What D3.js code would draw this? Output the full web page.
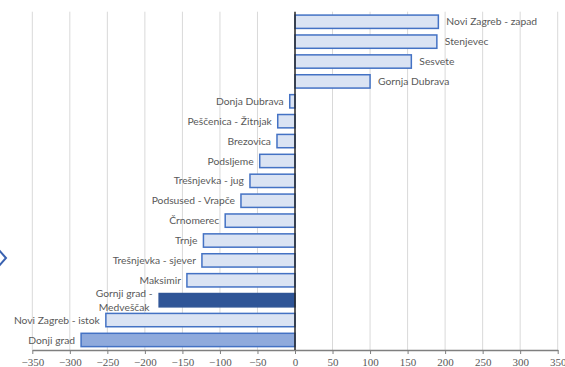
<!DOCTYPE html>
<html>
<head>
<meta charset="utf-8">
<script src="https://cdn.jsdelivr.net/npm/d3@7"></script>
<style>
  body { margin: 0; background: #fff; }
  svg { display: block; }
</style>
</head>
<body>
<div id="chart"></div>
<script>
// districts, top to bottom
const districts = [
    'Novi Zagreb - zapad', 'Stenjevec', 'Sesvete', 'Gornja Dubrava',
    'Donja Dubrava', 'Peščenica - Žitnjak', 'Brezovica', 'Podsljeme',
    'Trešnjevka - jug', 'Podsused - Vrapče', 'Črnomerec', 'Trnje',
    'Trešnjevka - sjever', 'Maksimir', 'Gornji grad - Medveščak',
    'Novi Zagreb - istok', 'Donji grad'
];
const values = [191, 189, 155, 100, -7, -23, -24, -47, -60, -72, -93, -122, -124, -144, -181, -252, -285];
const xTicks = [-350, -300, -250, -200, -150, -100, -50, 0, 50, 100, 150, 200, 250, 300, 350];

const width = 565, height = 367;
const margin = { top: 11.7, right: 7.3, bottom: 17, left: 32.3 };

const fillFor = name => name === 'Gornji grad - Medveščak' ? '#2f5597'
    : name === 'Donji grad' ? '#8faadc' : '#dae3f3';
const strokeFor = name => name === 'Gornji grad - Medveščak' ? '#2f5597' : '#4472c4';

const svg = d3.select('#chart').append('svg')
    .attr('width', width)
    .attr('height', height);

const x = d3.scaleLinear()
    .domain([-350, 350])
    .range([margin.left, width - margin.right]);
const y = d3.scaleBand()
    .domain(districts)
    .range([margin.top, height - margin.bottom])
    .paddingInner(0.33)
    .paddingOuter(0.17);

// gridlines
svg.append('g')
    .selectAll('line')
    .data(xTicks.filter(t => t !== 0))
    .join('line')
        .attr('x1', d => x(d)).attr('x2', d => x(d))
        .attr('y1', margin.top).attr('y2', height - margin.bottom)
        .attr('stroke', '#d9d9d9')
        .attr('stroke-width', 1);

// bars
const data = districts.map((d, i) => ({ name: d, value: values[i] }));
svg.append('g')
    .selectAll('rect')
    .data(data)
    .join('rect')
        .attr('x', d => x(Math.min(0, d.value)))
        .attr('y', d => y(d.name))
        .attr('width', d => Math.abs(x(d.value) - x(0)))
        .attr('height', y.bandwidth())
        .attr('fill', d => fillFor(d.name))
        .attr('stroke', d => strokeFor(d.name))
        .attr('stroke-width', 1.5);

// x axis
const xAxis = svg.append('g')
    .attr('transform', 'translate(0,' + (height - margin.bottom) + ')')
    .call(d3.axisBottom(x).tickValues(xTicks).tickSize(4).tickSizeOuter(0))
    .attr('font-family', "'Liberation Serif', 'DejaVu Serif', serif")
    .attr('font-size', 11);
xAxis.select('.domain').attr('stroke', '#7f7f7f').attr('stroke-width', 1.5);
xAxis.selectAll('.tick line').attr('stroke', '#7f7f7f');
xAxis.selectAll('.tick text')
    .attr('fill', '#595959')
    .attr('y', 8)
    .attr('dy', '0.71em');

// zero line
svg.append('line')
    .attr('x1', x(0)).attr('x2', x(0))
    .attr('y1', margin.top).attr('y2', height - margin.bottom)
    .attr('stroke', '#262626')
    .attr('stroke-width', 1.5);

// labels
const labels = svg.append('g')
    .attr('font-family', 'Lato')
    .attr('font-size', 10.3)
    .attr('fill', '#595959');
data.forEach(d => {
    const cy = y(d.name) + y.bandwidth() / 2;
    const pos = d.value >= 0;
    const tx = pos ? x(d.value) + 8 : x(d.value) - 6;
    if (d.name === 'Gornji grad - Medveščak') {
        const t = labels.append('text')
            .attr('x', tx - 29)
            .attr('y', cy)
            .attr('text-anchor', 'middle');
        t.append('tspan').attr('x', tx - 29).attr('dy', '-0.3em').text('Gornji grad -');
        t.append('tspan').attr('x', tx - 29).attr('dy', '1.35em').text('Medveščak');
    } else {
        labels.append('text')
            .attr('x', tx)
            .attr('y', cy)
            .attr('dy', '0.35em')
            .attr('text-anchor', pos ? 'start' : 'end')
            .text(d.name);
    }
});

// chevron at left edge
svg.append('path')
    .attr('d', 'M-2,249 L6,258 L-2,267')
    .attr('fill', 'none')
    .attr('stroke', '#3a62b0')
    .attr('stroke-width', 2);
</script>
</body>
</html>
